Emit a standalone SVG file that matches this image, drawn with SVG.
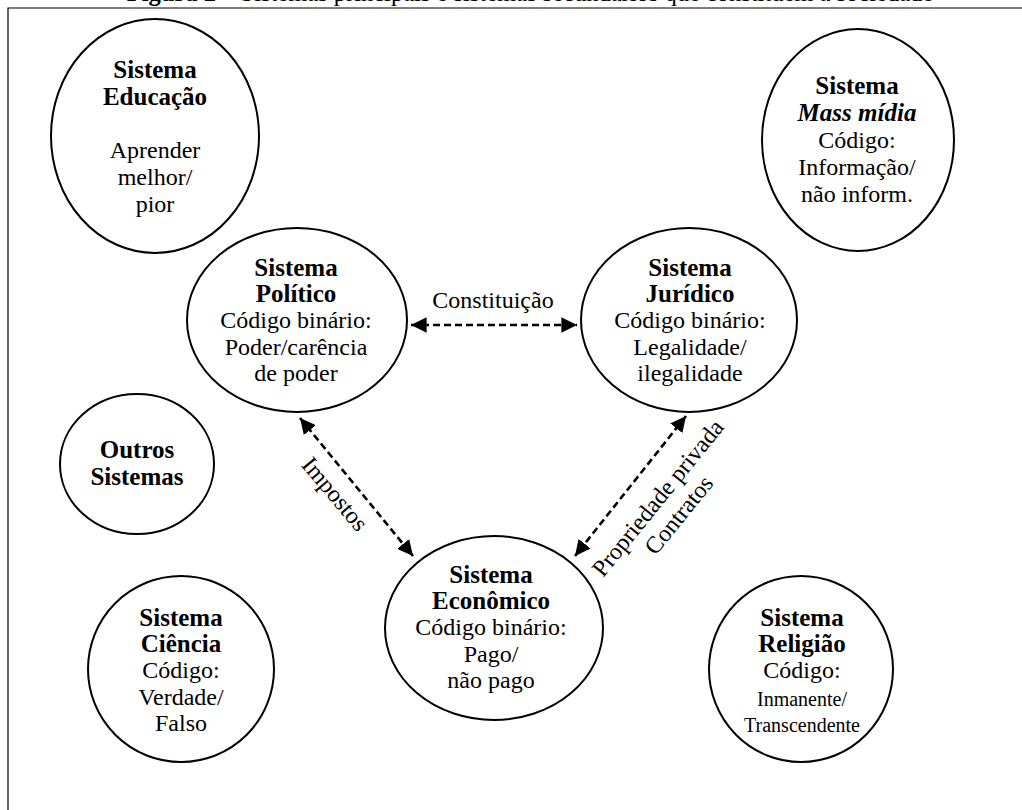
<svg xmlns="http://www.w3.org/2000/svg" width="1022" height="810" viewBox="0 0 1022 810">
  <style>
    .bg { fill: #ffffff; }
    .frame { fill: none; stroke: #000; stroke-width: 1.2; }
    .node ellipse { fill: #fff; stroke: #000; stroke-width: 2; }
    text { font-family: "Liberation Serif", "Times New Roman", serif; fill: #000; text-anchor: middle; }
    .b { font-weight: bold; font-size: 25px; }
    .r { font-size: 24px; }
    .s { font-size: 20px; }
    .title { font-size: 24.5px; }
    .link { fill: none; stroke: #000; stroke-width: 2.6; stroke-dasharray: 7 4; }
  </style>
  <defs>
    <marker id="tip" viewBox="0 0 10 10" refX="10" refY="5" markerWidth="6" markerHeight="6" markerUnits="strokeWidth" orient="auto-start-reverse">
      <path d="M0,0 L10,5 L0,10 z" fill="#000"/>
    </marker>
  </defs>

  <rect class="bg" x="0" y="0" width="1022" height="810"/>

  <!-- caption above the frame -->
  <text class="title" x="530" y="1"><tspan font-weight="bold">Figura 2</tspan> – Sistemas principais e sistemas secundários que constituem a sociedade</text>

  <!-- outer frame -->
  <path class="frame" d="M8,810 L8,8 L1022,8"/>

  <g id="educacao" class="node">
    <ellipse cx="155" cy="136" rx="104" ry="117"/>
    <text class="b" x="155" y="78">Sistema</text>
    <text class="b" x="155" y="105">Educação</text>
    <text class="r" x="155" y="158">Aprender</text>
    <text class="r" x="155" y="185">melhor/</text>
    <text class="r" x="155" y="212">pior</text>
  </g>

  <g id="massmidia" class="node">
    <ellipse cx="858" cy="140" rx="96" ry="111"/>
    <text class="b" x="857" y="94">Sistema</text>
    <text class="b" x="857" y="121" font-style="italic">Mass mídia</text>
    <text class="r" x="857" y="148">Código:</text>
    <text class="r" x="857" y="175">Informação/</text>
    <text class="r" x="857" y="202">não inform.</text>
  </g>

  <g id="politico" class="node">
    <ellipse cx="297" cy="320" rx="110" ry="92"/>
    <text class="b" x="296" y="276">Sistema</text>
    <text class="b" x="296" y="302">Político</text>
    <text class="r" x="296" y="328">Código binário:</text>
    <text class="r" x="296" y="355">Poder/carência</text>
    <text class="r" x="296" y="381">de poder</text>
  </g>

  <g id="juridico" class="node">
    <ellipse cx="689" cy="320" rx="108" ry="92"/>
    <text class="b" x="690" y="276">Sistema</text>
    <text class="b" x="690" y="302">Jurídico</text>
    <text class="r" x="690" y="328">Código binário:</text>
    <text class="r" x="690" y="355">Legalidade/</text>
    <text class="r" x="690" y="381">ilegalidade</text>
  </g>

  <g id="outros" class="node">
    <ellipse cx="137" cy="464" rx="77" ry="70"/>
    <text class="b" x="137" y="458">Outros</text>
    <text class="b" x="137" y="485">Sistemas</text>
  </g>

  <g id="ciencia" class="node">
    <ellipse cx="181" cy="669" rx="93" ry="93"/>
    <text class="b" x="181" y="626">Sistema</text>
    <text class="b" x="181" y="652">Ciência</text>
    <text class="r" x="181" y="678">Código:</text>
    <text class="r" x="181" y="705">Verdade/</text>
    <text class="r" x="181" y="731">Falso</text>
  </g>

  <g id="economico" class="node">
    <ellipse cx="494" cy="628" rx="109" ry="92"/>
    <text class="b" x="491" y="583">Sistema</text>
    <text class="b" x="491" y="609">Econômico</text>
    <text class="r" x="491" y="635">Código binário:</text>
    <text class="r" x="491" y="662">Pago/</text>
    <text class="r" x="491" y="688">não pago</text>
  </g>

  <g id="religiao" class="node">
    <ellipse cx="801" cy="669" rx="92" ry="93"/>
    <text class="b" x="802" y="626">Sistema</text>
    <text class="b" x="802" y="652">Religião</text>
    <text class="r" x="802" y="678">Código:</text>
    <text class="s" x="802" y="706">Inmanente/</text>
    <text class="s" x="802" y="732">Transcendente</text>
  </g>

  <!-- connectors, drawn last so their labels sit on top -->
  <g id="connectors">
    <line class="link" x1="411" y1="325" x2="577" y2="325" marker-start="url(#tip)" marker-end="url(#tip)"/>
    <line class="link" x1="300" y1="418" x2="413" y2="556" marker-start="url(#tip)" marker-end="url(#tip)"/>
    <line class="link" x1="686" y1="416" x2="575" y2="556" marker-start="url(#tip)" marker-end="url(#tip)"/>
    <text class="r" x="493" y="308">Constituição</text>
    <text class="r" transform="translate(335,494) rotate(50)" y="8">Impostos</text>
    <g transform="translate(664,503) rotate(-51)">
      <text class="r" x="0" y="0">Propriedade privada</text>
      <text class="r" x="0" y="27">Contratos</text>
    </g>
  </g>
</svg>
